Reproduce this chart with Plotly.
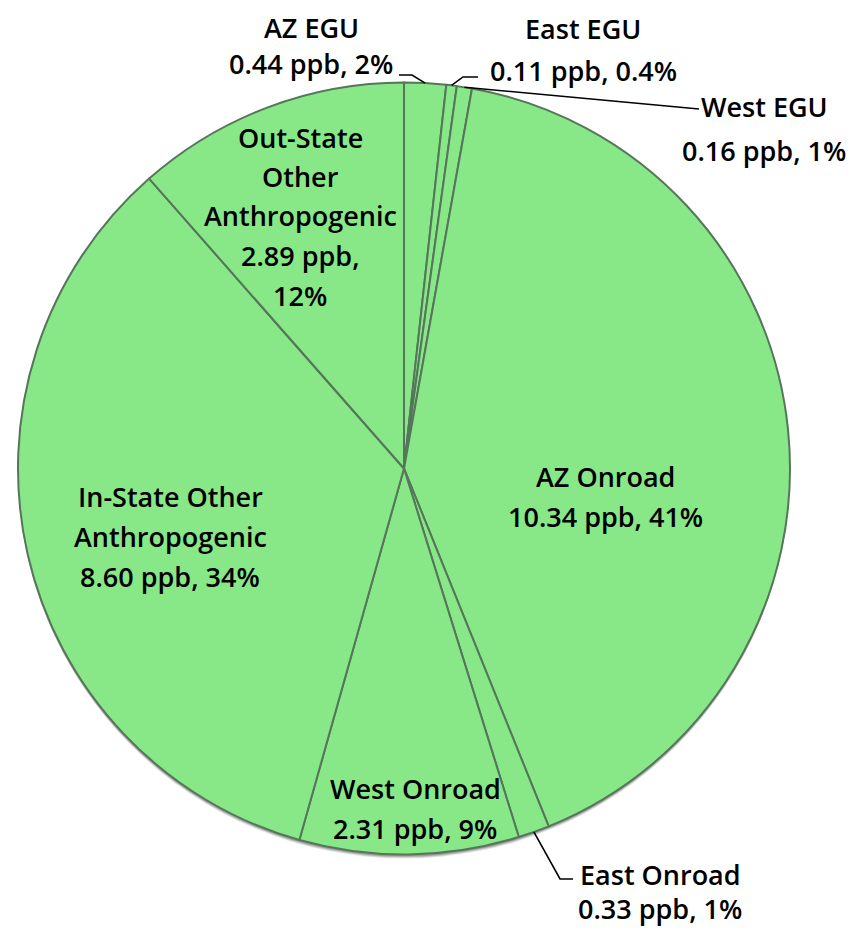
import math
import plotly.graph_objects as go

# slices, clockwise from 12 o'clock
sources = ["AZ EGU", "East EGU", "West EGU", "AZ Onroad", "East Onroad",
           "West Onroad", "In-State Other Anthropogenic", "Out-State Other Anthropogenic"]
ppb = [0.44, 0.11, 0.16, 10.34, 0.33, 2.31, 8.60, 2.89]
pct_labels = ["2%", "0.4%", "1%", "41%", "1%", "9%", "34%", "12%"]

# label line breaks as shown on the chart
label_lines = [
    ["AZ EGU", "{v} ppb, {p}"],
    ["East EGU", "{v} ppb, {p}"],
    ["West EGU", "{v} ppb, {p}"],
    ["AZ Onroad", "{v} ppb, {p}"],
    ["East Onroad", "{v} ppb, {p}"],
    ["West Onroad", "{v} ppb, {p}"],
    ["In-State Other", "Anthropogenic", "{v} ppb, {p}"],
    ["Out-State", "Other", "Anthropogenic", "{v} ppb,", "{p}"],
]

# the page body adds an 8px margin, so the figure is drawn 8px in from the window edge
OFF = 8
W_FIG, H_FIG = 856 - 2 * OFF, 936 - 2 * OFF
# pie box in window pixels
PIE_L, PIE_T, PW, PH = 18, 82, 772, 773
ML, MT = PIE_L - OFF, PIE_T - OFF
MR, MB = W_FIG - ML - PW, H_FIG - MT - PH
CX, CY, R = PIE_L + PW / 2, PIE_T + PH / 2, min(PW, PH) / 2

# label placement in window pixels: (center x, first line y, line spacing)
label_pos = [
    (311, 28, 36), (583, 29, 41), (764, 107, 43), (605, 476, 41),
    (660, 874, 34), (415, 788, 40), (170, 496, 40), (300, 137, 39.5),
]
# leader line elbows for outside labels (window pixels), after the slice edge point
leaders = {
    0: [(412, 75), (399, 75)],
    1: [(463, 77), (478, 77)],
    2: [(699, 109)],
    4: [(560, 879), (573, 879)],
}

FONT = dict(family="Open Sans, Noto Sans, sans-serif", size=27, color="black", weight=600)


def to_paper(x, y):
    return (x - PIE_L) / PW, 1 - (y - PIE_T) / PH


fig = go.Figure()
fig.add_trace(go.Pie(
    labels=sources, values=ppb, sort=False, direction="clockwise", rotation=0,
    marker=dict(colors=["#88E888"] * len(ppb), line=dict(color="#56765a", width=2)),
    textinfo="none", hoverinfo="label+value", showlegend=False,
    domain=dict(x=[0, 1], y=[0, 1]),
))

annotations = []
for i, lines in enumerate(label_lines):
    x, y0, dy = label_pos[i]
    v = "%.2f" % ppb[i]
    for k, ln in enumerate(lines):
        px, py = to_paper(x, y0 + k * dy)
        annotations.append(dict(
            x=px, y=py, xref="paper", yref="paper", showarrow=False,
            text=ln.format(v=v, p=pct_labels[i]), font=FONT,
            xanchor="center", yanchor="middle", borderpad=0,
        ))

shapes = []
total = sum(ppb)
cum = 0.0
for i, v in enumerate(ppb):
    mid = (cum + v / 2) / total * 2 * math.pi
    cum += v
    if i not in leaders:
        continue
    ex, ey = CX + R * math.sin(mid), CY - R * math.cos(mid)
    pts = [(ex, ey)] + leaders[i]
    path = ""
    for j, (x, y) in enumerate(pts):
        px, py = to_paper(x, y)
        path += ("M" if j == 0 else " L") + " %.4f,%.4f" % (px, py)
    shapes.append(dict(type="path", path=path, xref="paper", yref="paper",
                       line=dict(color="black", width=1.6)))

# soft shadow under the pie
for off, op in [(4, 0.10), (3, 0.15), (2, 0.2)]:
    x0, y0 = to_paper(CX - R, CY - R + off)
    x1, y1 = to_paper(CX + R, CY + R + off)
    shapes.append(dict(type="circle", xref="paper", yref="paper", x0=x0, y0=y1, x1=x1, y1=y0,
                       fillcolor="rgba(0,0,0,%s)" % op, line=dict(width=0), layer="below"))

fig.update_layout(
    width=W_FIG, height=H_FIG,
    margin=dict(l=ML, r=MR, t=MT, b=MB),
    paper_bgcolor="white", plot_bgcolor="white",
    annotations=annotations, shapes=shapes,
)

fig.write_html("out.html")
